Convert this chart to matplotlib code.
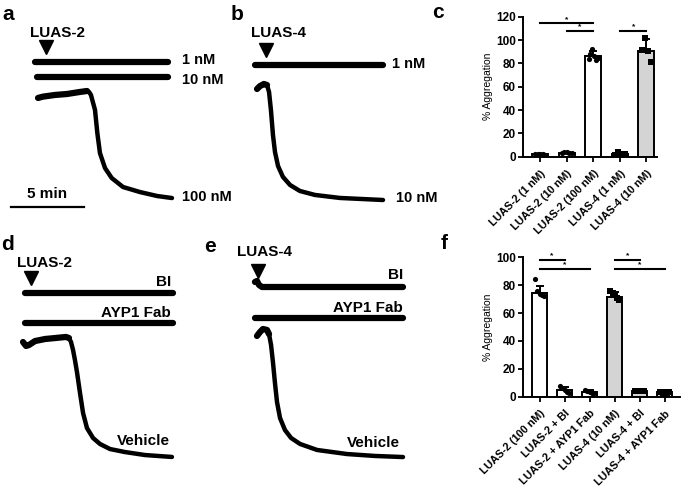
import numpy as np
import matplotlib.pyplot as plt

plt.rcParams['font.family'] = ['Liberation Sans', 'DejaVu Sans']
plt.rcParams['font.weight'] = 'bold'

W, H = 682, 486
PX_PER_MIN = 14.5   # 5 min scale bar = 72.5 px
PX_PER_PCT = 1.2

# ---------------- aggregation traces (t in min from agonist, agg in %) -------------
# panel a, LUAS-2
a_1nM_t = [-0.76, 8.41]
a_1nM_agg = [0, 0]
a_10nM_t = [-0.62, 8.41]
a_10nM_agg = [0, 0]
a_100nM_t = [-0.55, -0.21, 0.62, 1.45, 2.34, 2.83, 2.97, 3.10, 3.38, 3.54, 3.72,
             4.07, 4.53, 5.31, 6.48, 7.66, 8.69]
a_100nM_agg = [0.8, -0.3, -1.7, -2.5, -4.2, -5.0, -4.2, -1.7, 10.8, 30.0, 46.7,
               59.2, 67.5, 75.0, 79.2, 82.5, 84.2]

# panel b, LUAS-4
b_1nM_t = [-0.76, 8.07]
b_1nM_agg = [0, 0]
b_10nM_t = [-0.62, -0.41, -0.14, 0.07, 0.21, 0.34, 0.48, 0.62, 0.83, 1.17, 1.66,
            2.34, 3.38, 5.10, 8.07]
b_10nM_agg = [2.5, 0, -1.7, -0.8, 5.0, 20.0, 40.8, 55.0, 66.7, 75.8, 82.5,
              87.5, 90.8, 93.3, 95.0]

# panel d, LUAS-2 100 nM + inhibitors
d_bi_t = [-0.41, 9.79]
d_bi_agg = [0, 0]
d_fab_t = [-0.41, 9.79]
d_fab_agg = [0, 0]
d_veh_t = [-0.55, -0.34, -0.14, 0.28, 0.97, 1.66, 2.41, 2.62, 2.76, 2.90, 3.03,
           3.17, 3.38, 3.59, 3.86, 4.28, 4.76, 5.45, 6.48, 7.86, 9.72]
d_veh_agg = [0, 3.3, 2.5, -0.8, -2.5, -3.3, -4.2, -3.3, 0, 6.7, 15.0,
             25.0, 42.5, 59.2, 71.7, 80.0, 85.0, 89.2, 91.7, 94.2, 95.8]

# panel e, LUAS-4 10 nM + inhibitors
e_bi_t = [-0.21, -0.07, 0.07, 0.28, 10.0]
e_bi_agg = [-4.2, -5.0, -1.7, 0, 0]
e_fab_t = [-0.21, 10.0]
e_fab_agg = [0, 0]
e_veh_t = [-0.07, 0.14, 0.34, 0.62, 0.76, 0.90, 1.03, 1.17, 1.31, 1.52, 1.86,
           2.28, 2.90, 4.07, 6.14, 8.07, 10.0]
e_veh_agg = [0.8, -2.5, -5.0, -4.2, -0.8, 8.3, 22.5, 40.0, 55.8, 69.2, 79.2,
             85.8, 90.8, 95.8, 99.2, 100.8, 101.7]

# ---------------- bar data -------------
c_labels = ['LUAS-2 (1 nM)', 'LUAS-2 (10 nM)', 'LUAS-2 (100 nM)',
            'LUAS-4 (1 nM)', 'LUAS-4 (10 nM)']
c_means = [2.3, 3.4, 86.3, 2.4, 90.8]
c_err = [0.4, 0.5, 4.0, 1.1, 10.0]
c_points = [[2.0, 2.5, 2.2, 2.6, 1.8],
            [3.0, 3.8, 4.0, 3.5, 2.8],
            [84.0, 88.0, 92.5, 86.0, 83.0, 84.5],
            [1.5, 4.0, 2.0, 2.5],
            [91.5, 102.0, 90.5, 81.0]]
c_sigs = [(0, 2, 114.3), (1, 2, 107.7), (3, 4, 107.9)]

f_labels = ['LUAS-2 (100 nM)', 'LUAS-2 + BI', 'LUAS-2 + AYP1 Fab',
            'LUAS-4 (10 nM)', 'LUAS-4 + BI', 'LUAS-4 + AYP1 Fab']
f_means = [74.7, 4.8, 3.6, 71.8, 4.1, 3.1]
f_err = [5.0, 2.0, 0.9, 3.6, 0.4, 0.3]
f_points = [[84.7, 76.0, 74.0, 73.0, 72.0],
            [7.7, 6.0, 4.5, 3.5, 2.5],
            [4.5, 3.8, 3.2, 3.0, 2.8],
            [76.0, 74.7, 73.0, 70.6, 69.4],
            [4.3, 4.0, 4.2, 3.9, 4.1],
            [3.3, 3.0, 3.2, 2.9, 3.1]]
f_sigs = [(0, 1, 98.1), (0, 2, 91.7), (3, 4, 98.1), (3, 5, 91.7)]

WHITE, GRAY = 'white', '#d4d4d4'

fig = plt.figure(figsize=(W / 100, H / 100), dpi=100)


def px_text(x, y, s, size=10.5, ha='left', va='center'):
    fig.text(x / W, 1 - y / H, s, fontsize=size, fontweight='bold', ha=ha, va=va)


def trace_ax(left, top, w, h, t0):
    ax = fig.add_axes([left / W, 1 - (top + h) / H, w / W, h / H])
    ax.set_xlim((left - t0) / PX_PER_MIN, (left + w - t0) / PX_PER_MIN)
    ax.set_ylim(top + h, top)
    ax.axis('off')
    return ax


def draw_trace(ax, t, agg, base, lw=4.5, split=None):
    y = base + PX_PER_PCT * np.array(agg)
    t = np.array(t)
    if split is None:
        ax.plot(t, y, color='black', lw=lw, solid_capstyle='round', solid_joinstyle='round')
    else:
        ax.plot(t, y, color='black', lw=3.2, solid_capstyle='round', solid_joinstyle='round')
        ax.plot(t[:split], y[:split], color='black', lw=lw, solid_capstyle='round')


def injection(ax, y):
    ax.plot([0], [y], marker='v', color='black', markersize=10.5, clip_on=False)


# panel a
ax = trace_ax(0, 0, 230, 240, 46)
draw_trace(ax, a_1nM_t, a_1nM_agg, 62)
draw_trace(ax, a_10nM_t, a_10nM_agg, 77)
draw_trace(ax, a_100nM_t, a_100nM_agg, 97, split=6)
injection(ax, 47)
ax.plot([-2.41, -2.41 + 5], [207, 207], color='black', lw=1.6)
px_text(58, 33, 'LUAS-2', 11, ha='center')
px_text(182, 60, '1 nM')
px_text(182, 80, '10 nM')
px_text(182, 197, '100 nM')
px_text(47, 194, '5 min', 11, ha='center')

# panel b
ax = trace_ax(230, 0, 210, 240, 266)
draw_trace(ax, b_1nM_t, b_1nM_agg, 65)
draw_trace(ax, b_10nM_t, b_10nM_agg, 86, split=4)
injection(ax, 50)
px_text(279, 33, 'LUAS-4', 11, ha='center')
px_text(392, 64, '1 nM')
px_text(396, 198, '10 nM')

# panel d
ax = trace_ax(0, 240, 230, 246, 31)
draw_trace(ax, d_bi_t, d_bi_agg, 293)
draw_trace(ax, d_fab_t, d_fab_agg, 323)
draw_trace(ax, d_veh_t, d_veh_agg, 342, split=8)
injection(ax, 278)
px_text(44, 263, 'LUAS-2', 11, ha='center')
px_text(171, 282, 'BI', 11, ha='right')
px_text(171, 313, 'AYP1 Fab', 11, ha='right')
px_text(170, 441, 'Vehicle', 11, ha='right')

# panel e
ax = trace_ax(230, 240, 210, 246, 258)
draw_trace(ax, e_bi_t, e_bi_agg, 287)
draw_trace(ax, e_fab_t, e_fab_agg, 318)
draw_trace(ax, e_veh_t, e_veh_agg, 335, split=5)
injection(ax, 271)
px_text(265, 252, 'LUAS-4', 11, ha='center')
px_text(403, 275, 'BI', 11, ha='right')
px_text(403, 308, 'AYP1 Fab', 11, ha='right')
px_text(400, 443, 'Vehicle', 11, ha='right')


def bar_panel(left, top, w, h, xlim, ymax, labels, means, errs, points, fills, marks, sigs):
    ax = fig.add_axes([left / W, 1 - (top + h) / H, w / W, h / H])
    x = np.arange(len(labels))
    ax.bar(x, means, width=0.6, color=fills, edgecolor='black', linewidth=1.4, zorder=2)
    ax.errorbar(x, means, yerr=[np.zeros(len(x)), errs], fmt='none', ecolor='black',
                elinewidth=1.4, capsize=3, capthick=1.4, zorder=3)
    for i, vals in enumerate(points):
        off = np.linspace(-0.18, 0.18, len(vals))
        ax.scatter(i + off, vals, s=14, marker=marks[i], color='black', zorder=4, linewidths=0)
    for i, j, y in sigs:
        ax.plot([i, j], [y, y], color='black', lw=1.5, clip_on=False)
        ax.text((i + j) / 2, y + 0.3, '*', ha='center', va='bottom', fontsize=6)
    ax.set_xlim(*xlim)
    ax.set_ylim(0, ymax)
    ax.set_yticks(np.arange(0, ymax + 1, 20))
    ax.set_xticks(x)
    ax.set_xticklabels(labels, rotation=45, ha='right', rotation_mode='anchor', fontsize=7.8)
    ax.tick_params(axis='y', labelsize=8.5, width=1.3, length=3.5, pad=1.5)
    ax.tick_params(axis='x', width=1.3, length=3.5, pad=5)
    for s in ['top', 'right']:
        ax.spines[s].set_visible(False)
    for s in ['left', 'bottom']:
        ax.spines[s].set_linewidth(1.4)
    ax.set_ylabel('% Aggregation', fontsize=7.5, fontweight='normal', labelpad=2)
    return ax


bar_panel(523, 16.7, 134, 140, (-0.65, 4.4), 120, c_labels, c_means, c_err, c_points,
          [WHITE, WHITE, WHITE, GRAY, GRAY], ['o', 'o', 'o', 's', 's'], c_sigs)
bar_panel(523, 257.3, 157, 139.4, (-0.66, 5.6), 100, f_labels, f_means, f_err, f_points,
          [WHITE, WHITE, WHITE, GRAY, GRAY, GRAY], ['o', 'o', 'o', 's', 's', 's'], f_sigs)

for s, x, y in [('a', 8, 15), ('b', 237, 15), ('c', 438, 12),
                ('d', 7, 244), ('e', 210, 246), ('f', 444, 243)]:
    px_text(x, y, s, 15, ha='center')

fig.savefig('out.png', dpi=100, facecolor='white')
